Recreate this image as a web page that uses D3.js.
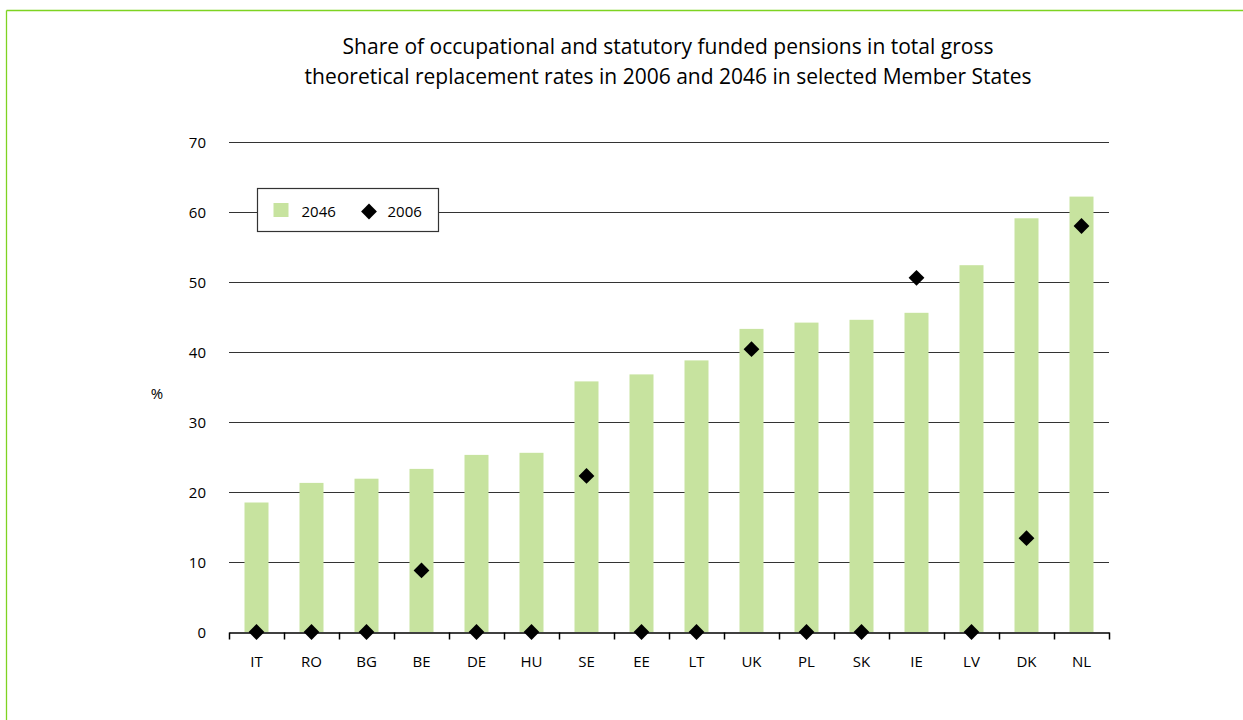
<!DOCTYPE html>
<html>
<head>
<meta charset="utf-8">
<script src="https://cdn.jsdelivr.net/npm/d3@7"></script>
<style>
  body { margin: 0; background: #fff; }
  text { font-family: "Open Sans", "Noto Sans", sans-serif; fill: #000; }
</style>
</head>
<body>
<div id="chart"></div>
<script>
var countries = ["IT", "RO", "BG", "BE", "DE", "HU", "SE", "EE", "LT", "UK", "PL", "SK", "IE", "LV", "DK", "NL"];
var values2046 = [18.5, 21.3, 21.9, 23.3, 25.3, 25.6, 35.8, 36.8, 38.8, 43.3, 44.2, 44.6, 45.6, 52.4, 59.1, 62.2];
var values2006 = [0, 0, 0, 8.8, 0, 0, 22.3, 0, 0, 40.4, 0, 0, 50.6, 0, 13.4, 58.0];
var yTicks = [0, 10, 20, 30, 40, 50, 60, 70];
var titleLines = ["Share of occupational and statutory funded pensions in total gross",
                  "theoretical replacement rates in 2006 and 2046 in selected Member States"];

var width = 1243, height = 720;
var margin = { left: 229, right: 134, top: 142, bottom: 88 };

var svg = d3.select("#chart")
    .append("svg")
    .attr("width", width)
    .attr("height", height);

// green frame
svg.append("line").attr("x1", 6.5).attr("x2", width).attr("y1", 10.5).attr("y2", 10.5)
    .attr("stroke", "#7ed321").attr("stroke-width", 1.3);
svg.append("line").attr("x1", 6.5).attr("x2", 6.5).attr("y1", 10.5).attr("y2", height)
    .attr("stroke", "#7ed321").attr("stroke-width", 1.3);

var x = d3.scaleBand()
    .domain(countries)
    .range([margin.left, width - margin.right]);

var y = d3.scaleLinear()
    .domain([0, 70])
    .range([height - margin.bottom, margin.top]);

// title
svg.append("text")
    .attr("x", 668)
    .attr("y", 54)
    .attr("text-anchor", "middle")
    .style("font-size", "21px")
    .selectAll("tspan")
    .data(titleLines)
    .enter()
    .append("tspan")
    .attr("x", 668)
    .attr("dy", function(d, i) { return i ? 29.5 : 0; })
    .text(function(d) { return d; });

// gridlines
svg.append("g")
    .selectAll("line")
    .data(yTicks.slice(1))
    .enter()
    .append("line")
    .attr("x1", margin.left)
    .attr("x2", width - margin.right)
    .attr("y1", function(d) { return Math.round(y(d)) + 0.5; })
    .attr("y2", function(d) { return Math.round(y(d)) + 0.5; })
    .attr("stroke", "#333")
    .attr("stroke-width", 1.2);

// y labels
svg.append("g")
    .selectAll("text")
    .data(yTicks)
    .enter()
    .append("text")
    .attr("x", 206)
    .attr("y", function(d) { return y(d) + 5.5; })
    .attr("text-anchor", "end")
    .style("font-size", "15px")
    .text(function(d) { return d; });

svg.append("text")
    .attr("x", 157)
    .attr("y", 399)
    .attr("text-anchor", "middle")
    .style("font-size", "15px")
    .text("%");

// bars
var barW = 24;
svg.append("g")
    .selectAll("rect")
    .data(countries)
    .enter()
    .append("rect")
    .attr("x", function(d) { return x(d) + x.bandwidth() / 2 - barW / 2; })
    .attr("y", function(d, i) { return y(values2046[i]); })
    .attr("width", barW)
    .attr("height", function(d, i) { return y(0) - y(values2046[i]); })
    .attr("fill", "#c7e39f");

// x axis
var xAxis = d3.axisBottom(x).tickSize(0).tickPadding(24);
var gx = svg.append("g")
    .attr("transform", "translate(0," + (y(0) + 0.5) + ")")
    .call(xAxis);
gx.select(".domain").attr("stroke", "#000").attr("stroke-width", 1.5);
gx.selectAll(".tick text").style("font-size", "15px").attr("fill", "#000")
    .style("font-family", "\"Open Sans\", sans-serif");
gx.selectAll(".divider")
    .data(d3.range(countries.length + 1))
    .enter()
    .append("line")
    .attr("class", "divider")
    .attr("x1", function(i) { return Math.round(margin.left + i * x.step()) + 0.5; })
    .attr("x2", function(i) { return Math.round(margin.left + i * x.step()) + 0.5; })
    .attr("y1", 0)
    .attr("y2", 7)
    .attr("stroke", "#000")
    .attr("stroke-width", 1.5);

// diamonds
var diamond = d3.symbol().type(d3.symbolSquare).size(125);
svg.append("g")
    .selectAll("path")
    .data(countries)
    .enter()
    .append("path")
    .attr("d", diamond)
    .attr("transform", function(d, i) {
        return "translate(" + (x(d) + x.bandwidth() / 2) + "," + y(values2006[i]) + ") rotate(45)";
    })
    .attr("fill", "#000");

// legend
var legend = svg.append("g").attr("transform", "translate(257.5,188.5)");
legend.append("rect")
    .attr("width", 181)
    .attr("height", 43)
    .attr("fill", "#fff")
    .attr("stroke", "#333")
    .attr("stroke-width", 1.2);
legend.append("rect")
    .attr("x", 16).attr("y", 14.5)
    .attr("width", 15).attr("height", 14)
    .attr("fill", "#c7e39f");
legend.append("text").attr("x", 44).attr("y", 28.5).style("font-size", "15px").text("2046");
legend.append("path")
    .attr("d", diamond)
    .attr("transform", "translate(111.5,23) rotate(45)")
    .attr("fill", "#000");
legend.append("text").attr("x", 130).attr("y", 28.5).style("font-size", "15px").text("2006");
</script>
</body>
</html>
